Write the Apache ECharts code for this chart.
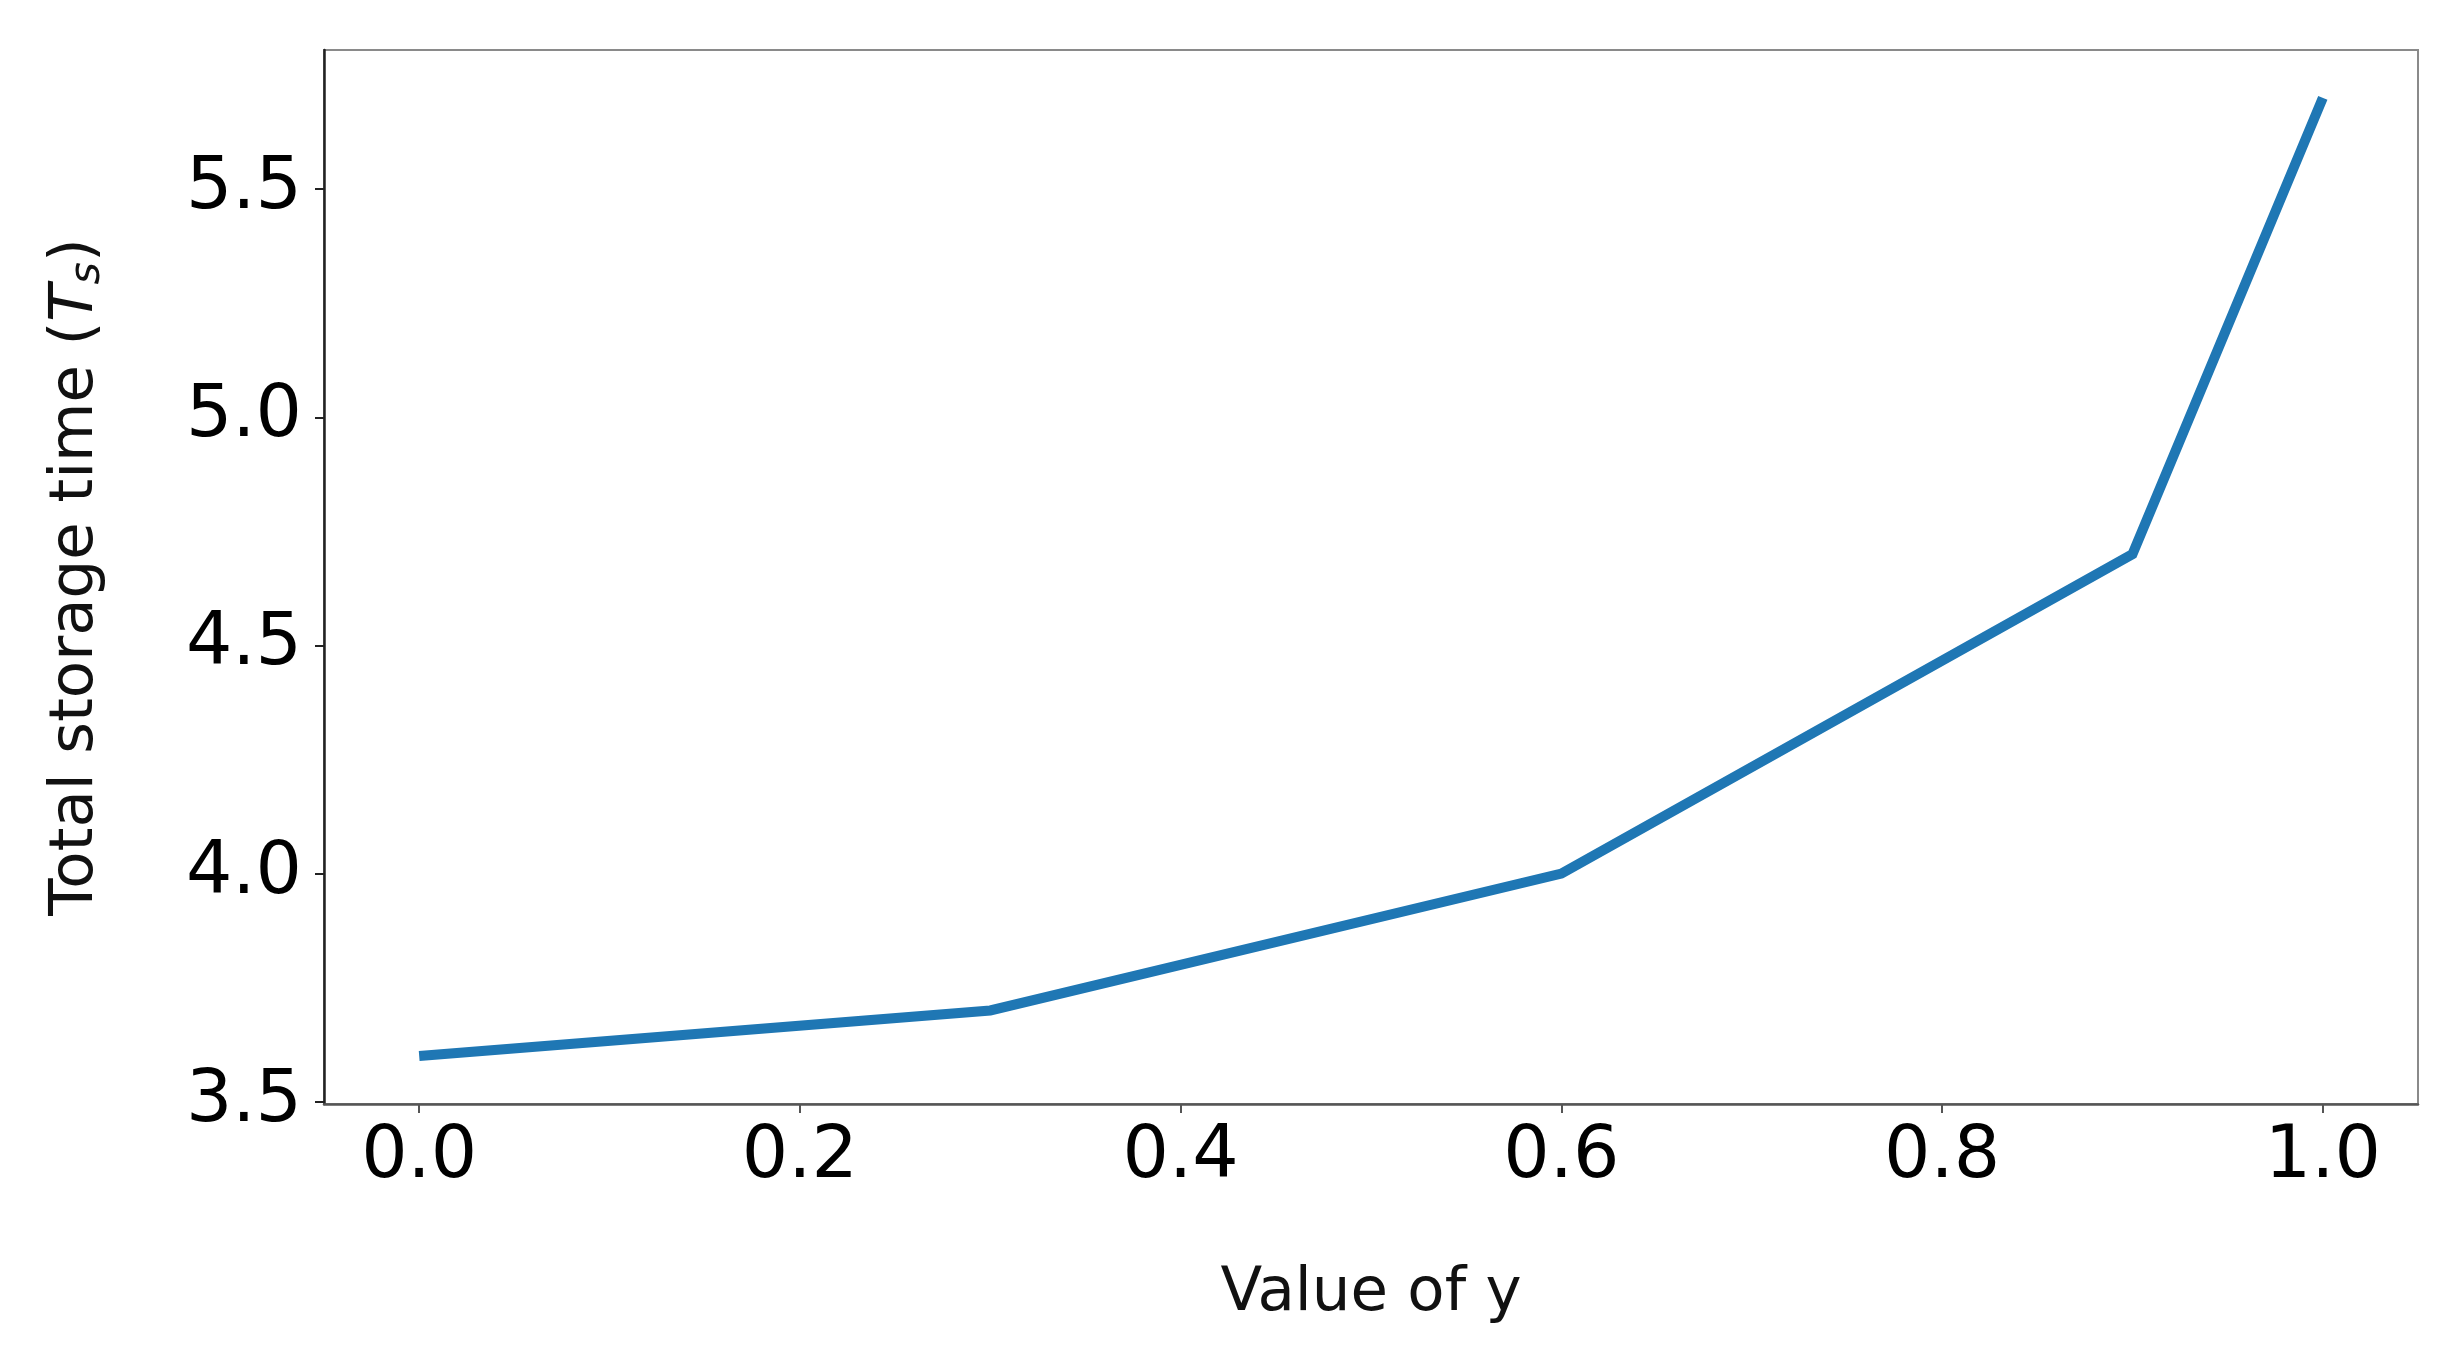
<!DOCTYPE html>
<html>
<head>
<meta charset="utf-8">
<script src="https://cdn.jsdelivr.net/npm/echarts@6/dist/echarts.min.js"></script>
<style>
html,body{margin:0;padding:0;background:#fff;}
#chart{width:2458px;height:1347px;}
</style>
</head>
<body>
<div id="chart"></div>
<script>
const yValues = [0.0, 0.3, 0.6, 0.9, 1.0];
const storageTime = [3.6, 3.7, 4.0, 4.7, 5.7];
const xTicks = [0.0, 0.2, 0.4, 0.6, 0.8, 1.0];
const yTicks = [3.5, 4.0, 4.5, 5.0, 5.5];

const chart = echarts.init(document.getElementById('chart'));
const font = 'DejaVu Sans';
chart.setOption({
  animation: false,
  backgroundColor: '#fff',
  grid: {left: 324, right: 40, top: 50, bottom: 243, show: true, borderColor: '#8a8a8a', borderWidth: 2},
  xAxis: {
    type: 'value', min: -0.05, max: 1.05,
    name: 'Value of y', nameLocation: 'middle', nameGap: 160,
    nameTextStyle: {fontFamily: font, fontSize: 61, color: '#111'},
    axisLine: {show: true, onZero: false, lineStyle: {color: '#555', width: 2.5}},
    axisTick: {show: true, length: 9, lineStyle: {color: '#555', width: 2}, customValues: xTicks},
    axisLabel: {fontFamily: font, fontSize: 73, color: '#000', margin: 18, customValues: xTicks,
      formatter: v => v.toFixed(1)},
    splitLine: {show: false}
  },
  yAxis: {
    type: 'value', min: 3.495, max: 5.805,
    name: 'Total storage time ({i|T}{s|s})', nameLocation: 'middle', nameGap: 215, nameRotate: 90,
    nameTextStyle: {fontFamily: font, fontSize: 61, color: '#111',
      rich: {
        i: {fontFamily: font, fontSize: 61, fontStyle: 'italic', color: '#111'},
        s: {fontFamily: font, fontSize: 43, fontStyle: 'italic', color: '#111', padding: [22, 0, 0, 0]}
      }},
    axisLine: {show: true, onZero: false, lineStyle: {color: '#222', width: 2.5}},
    axisTick: {show: true, length: 9, lineStyle: {color: '#222', width: 2}, customValues: yTicks},
    axisLabel: {fontFamily: font, fontSize: 73, color: '#000', margin: 22, customValues: yTicks,
      formatter: v => v.toFixed(1)},
    splitLine: {show: false}
  },
  series: [{
    type: 'line',
    data: yValues.map((x, i) => [x, storageTime[i]]),
    showSymbol: false,
    lineStyle: {color: '#1f77b4', width: 10, cap: 'butt', join: 'miter'},
    itemStyle: {color: '#1f77b4'}
  }]
});
</script>
</body>
</html>
